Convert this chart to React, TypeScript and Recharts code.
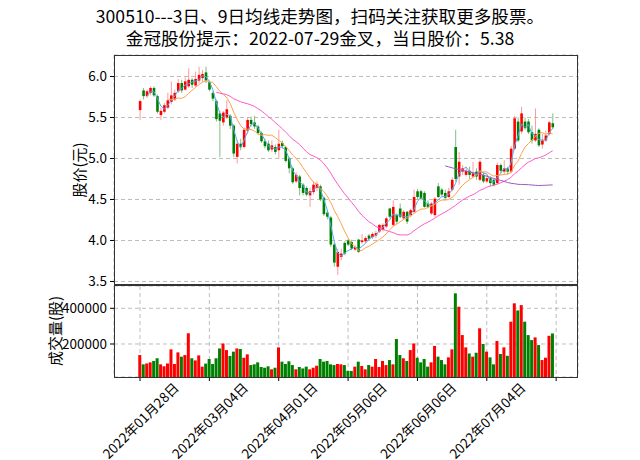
import React from 'react';
import { ComposedChart, Bar, Line, XAxis, YAxis, CartesianGrid, Cell } from 'recharts';

// ---------------- data ----------------
const tickIndex = [0, 20, 40, 60, 80, 100, 120];
const tickLabels = ['2022年01月28日', '2022年03月04日', '2022年04月01日', '2022年05月06日', '2022年06月06日', '2022年07月04日', ''];
const priceTicks = [3.5, 4.0, 4.5, 5.0, 5.5, 6.0];
const volumeTicks = [200000, 400000];

const opens = [
  5.59, 5.83, 5.76, 5.80, 5.86, 5.76, 5.53, 5.57, 5.62, 5.69,
  5.72, 5.82, 5.92, 5.84, 5.88, 5.96, 5.89, 5.95, 5.98, 6.05,
  5.93, 5.80, 5.70, 5.55, 5.44, 5.50, 5.52, 5.40, 5.02, 5.18,
  5.14, 5.34, 5.47, 5.44, 5.39, 5.31, 5.21, 5.18, 5.11, 5.14,
  5.10, 5.19, 5.14, 5.00, 4.88, 4.72, 4.78, 4.68, 4.64, 4.55,
  4.59, 4.64, 4.66, 4.52, 4.34, 4.28, 3.95, 3.68, 3.80, 3.97,
  4.00, 3.98, 3.89, 4.01, 3.98, 3.99, 4.06, 4.04, 4.06, 4.11,
  4.13, 4.17, 4.39, 4.19, 4.31, 4.39, 4.27, 4.35, 4.31, 4.35,
  4.60, 4.60, 4.58, 4.45, 4.33, 4.31, 4.66, 4.62, 4.58, 4.53,
  4.62, 5.14, 4.78, 4.84, 4.80, 4.85, 4.78, 4.84, 4.74, 4.80,
  4.72, 4.76, 4.74, 4.70, 4.92, 4.84, 4.88, 4.84, 5.12, 5.45,
  5.33, 5.45, 5.45, 5.32, 5.22, 5.35, 5.17, 5.22, 5.30, 5.43,
];
const highs = [
  5.72, 5.86, 5.84, 5.88, 5.88, 5.78, 5.62, 5.68, 5.80, 5.94,
  5.84, 5.97, 5.96, 5.99, 6.10, 5.98, 6.06, 6.12, 6.08, 6.12,
  5.95, 5.82, 5.72, 5.58, 5.58, 5.71, 5.54, 5.42, 5.22, 5.24,
  5.38, 5.50, 5.51, 5.52, 5.41, 5.33, 5.24, 5.22, 5.22, 5.17,
  5.35, 5.22, 5.15, 5.02, 4.90, 4.83, 4.80, 4.70, 4.66, 4.64,
  4.72, 4.72, 4.68, 4.54, 4.37, 4.30, 3.98, 3.90, 3.90, 3.99,
  4.02, 4.01, 3.94, 4.02, 4.08, 4.05, 4.08, 4.10, 4.12, 4.20,
  4.21, 4.29, 4.40, 4.49, 4.33, 4.45, 4.37, 4.36, 4.39, 4.62,
  4.63, 4.62, 4.60, 4.49, 4.47, 4.53, 4.70, 4.64, 4.62, 4.64,
  4.77, 5.35, 5.08, 4.92, 4.88, 4.90, 4.96, 4.88, 4.99, 4.84,
  4.80, 4.78, 4.76, 4.95, 4.94, 4.98, 4.90, 5.15, 5.52, 5.50,
  5.63, 5.50, 5.48, 5.40, 5.61, 5.37, 5.30, 5.34, 5.46, 5.55,
];
const lows = [
  5.47, 5.72, 5.74, 5.77, 5.75, 5.55, 5.47, 5.55, 5.60, 5.66,
  5.70, 5.80, 5.80, 5.83, 5.86, 5.86, 5.87, 5.92, 5.93, 5.92,
  5.82, 5.70, 5.45, 5.02, 5.40, 5.48, 5.36, 5.02, 4.94, 5.10,
  5.12, 5.30, 5.39, 5.36, 5.29, 5.19, 5.12, 5.08, 5.08, 5.05,
  5.00, 5.12, 4.95, 4.82, 4.69, 4.70, 4.55, 4.55, 4.54, 4.41,
  4.56, 4.60, 4.48, 4.30, 4.26, 3.92, 3.68, 3.58, 3.76, 3.82,
  3.93, 3.88, 3.87, 3.85, 3.96, 3.97, 4.00, 4.02, 4.03, 4.09,
  4.11, 4.15, 4.27, 4.17, 4.20, 4.27, 4.25, 4.20, 4.29, 4.33,
  4.50, 4.49, 4.40, 4.39, 4.31, 4.29, 4.52, 4.54, 4.50, 4.52,
  4.60, 4.72, 4.68, 4.80, 4.78, 4.75, 4.76, 4.74, 4.72, 4.70,
  4.70, 4.66, 4.66, 4.68, 4.82, 4.80, 4.80, 4.82, 5.10, 5.20,
  5.30, 5.35, 5.30, 5.18, 5.20, 5.14, 5.12, 5.20, 5.28, 5.36,
];
const closes = [
  5.70, 5.76, 5.82, 5.86, 5.77, 5.57, 5.58, 5.65, 5.71, 5.77,
  5.80, 5.92, 5.83, 5.94, 5.96, 5.90, 5.97, 6.02, 6.03, 5.95,
  5.84, 5.73, 5.48, 5.46, 5.56, 5.60, 5.40, 5.06, 5.18, 5.14,
  5.35, 5.47, 5.42, 5.39, 5.31, 5.21, 5.15, 5.10, 5.16, 5.08,
  5.18, 5.15, 4.97, 4.88, 4.71, 4.80, 4.64, 4.58, 4.56, 4.60,
  4.68, 4.69, 4.50, 4.32, 4.29, 3.95, 3.73, 3.86, 3.84, 3.84,
  3.95, 3.90, 3.92, 3.86, 4.00, 4.03, 4.02, 4.08, 4.09, 4.19,
  4.19, 4.27, 4.29, 4.41, 4.23, 4.29, 4.35, 4.23, 4.37, 4.53,
  4.53, 4.51, 4.41, 4.41, 4.45, 4.51, 4.53, 4.56, 4.52, 4.60,
  4.74, 4.75, 4.96, 4.88, 4.85, 4.80, 4.82, 4.78, 4.96, 4.72,
  4.76, 4.70, 4.68, 4.92, 4.85, 4.88, 4.84, 5.12, 5.49, 5.22,
  5.55, 5.37, 5.32, 5.22, 5.30, 5.16, 5.22, 5.28, 5.44, 5.38,
];
const volumes = [
  138000, 86000, 91000, 97000, 105000, 120000, 86000, 75000, 91000, 170000,
  88000, 153000, 129000, 138000, 260000, 120000, 108000, 136000, 73000, 90000,
  116000, 88000, 120000, 175000, 203000, 166000, 133000, 157000, 175000, 172000,
  123000, 142000, 82000, 86000, 97000, 71000, 67000, 75000, 58000, 67000,
  181000, 101000, 88000, 103000, 82000, 58000, 71000, 63000, 73000, 58000,
  67000, 78000, 116000, 101000, 105000, 86000, 82000, 88000, 86000, 82000,
  49000, 49000, 73000, 101000, 77000, 58000, 82000, 73000, 116000, 71000,
  105000, 82000, 110000, 86000, 228000, 138000, 120000, 105000, 166000, 203000,
  123000, 97000, 116000, 73000, 97000, 189000, 129000, 110000, 86000, 125000,
  170000, 484000, 409000, 250000, 181000, 147000, 129000, 151000, 288000, 200000,
  157000, 125000, 86000, 217000, 144000, 181000, 134000, 325000, 428000, 388000,
  418000, 325000, 250000, 222000, 237000, 194000, 110000, 123000, 246000, 259000,
];
const maPeriods = [3, 9, 23, 89];

const TITLE1 = '300510---3日、9日均线走势图，扫码关注获取更多股票。';
const TITLE2 = '金冠股份提示：2022-07-29金叉，当日股价：5.38';
const PRICE_LABEL = '股价(元)';
const VOLUME_LABEL = '成交量(股)';

// ---------------- derived table ----------------
function movingAverage(values: number[], n: number): (number | null)[] {
  return values.map((_, i) => {
    if (i < n - 1) return null;
    let s = 0;
    for (let k = i - n + 1; k <= i; k++) s += values[k];
    return s / n;
  });
}
const maSeries = maPeriods.map((p) => movingAverage(closes, p));
const rows = closes.map((c, i) => ({
  i,
  open: opens[i],
  high: highs[i],
  low: lows[i],
  close: c,
  volume: volumes[i],
  range: [lows[i], highs[i]],
  ma0: maSeries[0][i],
  ma1: maSeries[1][i],
  ma2: maSeries[2][i],
  ma3: maSeries[3][i],
}));

// ---------------- styling ----------------
const FONT = '"Noto Sans CJK SC", "Noto Sans", sans-serif';
const UP = '#ff0000';
const DOWN = '#008000';
const UP_WICK = '#ff9a9a';
const DOWN_WICK = '#7fbf7f';
const MA_COLORS = ['#55aaee', '#ffa04a', '#ff5ac8', '#9b5bc0'];
const GRID = '#bdbdbd';
const DASH = '4 3';
const X_DOMAIN: [number, number] = [-7.5, 126.3];
const PLOT_L = 114;
const PLOT_R = 578;
const TOP1 = 55;
const BOT1 = 285;
const BOT2 = 377;
const UPPER_H = 300;

const Candle = (props: any) => {
  const { x, width, payload } = props;
  let { y, height } = props;
  if (!payload || y == null || height == null) return null;
  if (height < 0) {
    y = y + height;
    height = -height;
  }
  const { open, close, high, low } = payload;
  const span = high - low;
  const py = (v: number) => (span > 0 ? y + ((high - v) / span) * height : y);
  const up = close >= open;
  const cx = x + width / 2;
  const top = py(Math.max(open, close));
  const bot = py(Math.min(open, close));
  const bw = 2.6;
  return (
    <g>
      <line x1={cx} x2={cx} y1={y} y2={y + height} stroke={up ? UP_WICK : DOWN_WICK} strokeWidth={1} />
      <rect x={cx - bw / 2} y={top} width={bw} height={Math.max(bot - top, 1)} fill={up ? UP : DOWN} />
    </g>
  );
};

const XTick = (props: any) => {
  const { x, y, payload } = props;
  const idx = tickIndex.indexOf(payload.value);
  const label = idx >= 0 ? tickLabels[idx] : '';
  if (!label) return null;
  const cy = y + 36;
  return (
    <text
      x={x}
      y={cy}
      textAnchor="middle"
      dominantBaseline="central"
      transform={`rotate(-45, ${x}, ${cy})`}
      fontSize={13.5}
      fontFamily={FONT}
      fill="#000"
    >
      {label}
    </text>
  );
};

const tickStyle = { fontSize: 13.5, fill: '#000', fontFamily: FONT };

export default function App() {
  return (
    <div style={{ position: 'absolute', left: 0, top: 0, width: 640, height: 460, background: '#fff', fontFamily: FONT, overflow: 'hidden' }}>
      <div style={{ position: 'absolute', left: 0, top: 5, width: 640, textAlign: 'center', fontSize: 17.6, lineHeight: '22px', color: '#000' }}>
        <div>{TITLE1}</div>
        <div>{TITLE2}</div>
      </div>

      {/* price panel */}
      <div style={{ position: 'absolute', left: 0, top: 0 }}>
        <ComposedChart width={640} height={UPPER_H} data={rows} margin={{ top: TOP1, right: 640 - PLOT_R, bottom: UPPER_H - BOT1 - 1, left: 0 }}>
          <CartesianGrid stroke={GRID} strokeDasharray={DASH} />
          <XAxis
            type="number"
            dataKey="i"
            domain={X_DOMAIN}
            allowDataOverflow
            ticks={tickIndex}
            interval={0}
            height={1}
            tick={false}
            axisLine={false}
            tickLine={false}
          />
          <YAxis
            type="number"
            width={PLOT_L}
            domain={[3.457, 6.262]}
            allowDataOverflow
            ticks={priceTicks}
            interval={0}
            tickFormatter={(v: number) => v.toFixed(1)}
            tick={tickStyle}
            tickSize={4}
            tickMargin={3}
            axisLine={false}
            tickLine={{ stroke: '#000' }}
          />
          <Bar dataKey="range" shape={Candle} isAnimationActive={false} />
          {maSeries.map((_, k) => (
            <Line
              key={'ma' + k}
              type="linear"
              dataKey={'ma' + k}
              stroke={MA_COLORS[k]}
              strokeWidth={1}
              dot={false}
              activeDot={false}
              connectNulls={false}
              isAnimationActive={false}
            />
          ))}
        </ComposedChart>
      </div>

      {/* volume panel */}
      <div style={{ position: 'absolute', left: 0, top: 0 }}>
        <ComposedChart width={640} height={460} data={rows} margin={{ top: BOT1 + 1, right: 640 - PLOT_R, bottom: 0, left: 0 }} barCategoryGap={0} barGap={0}>
          <CartesianGrid stroke={GRID} strokeDasharray={DASH} />
          <XAxis
            type="number"
            dataKey="i"
            domain={X_DOMAIN}
            allowDataOverflow
            ticks={tickIndex}
            tick={<XTick />}
            height={460 - BOT2}
            tickSize={4}
            tickMargin={3}
            axisLine={false}
            tickLine={{ stroke: '#000' }}
            interval={0}
          />
          <YAxis
            type="number"
            width={PLOT_L}
            domain={[15000, 525000]}
            allowDataOverflow
            ticks={volumeTicks}
            interval={0}
            tick={tickStyle}
            tickSize={4}
            tickMargin={3}
            axisLine={false}
            tickLine={{ stroke: '#000' }}
          />
          <Bar dataKey="volume" isAnimationActive={false}>
            {rows.map((r) => (
              <Cell key={r.i} fill={r.close >= r.open ? UP : DOWN} />
            ))}
          </Bar>
        </ComposedChart>
      </div>

      {/* panel frames */}
      <div style={{ position: 'absolute', left: PLOT_L, top: TOP1, width: PLOT_R - PLOT_L, height: BOT1 - TOP1, border: '1px solid #333', boxSizing: 'border-box', pointerEvents: 'none' }} />
      <div style={{ position: 'absolute', left: PLOT_L, top: BOT1, width: PLOT_R - PLOT_L, height: BOT2 - BOT1 + 1, border: '1px solid #333', boxSizing: 'border-box', pointerEvents: 'none' }} />

      {/* axis titles */}
      <div style={{ position: 'absolute', left: 79 - 60, top: 170 - 10, width: 120, height: 20, lineHeight: '20px', textAlign: 'center', fontSize: 15, transform: 'rotate(-90deg)', color: '#000' }}>
        {PRICE_LABEL}
      </div>
      <div style={{ position: 'absolute', left: 55 - 60, top: 331 - 10, width: 120, height: 20, lineHeight: '20px', textAlign: 'center', fontSize: 15, transform: 'rotate(-90deg)', color: '#000' }}>
        {VOLUME_LABEL}
      </div>
    </div>
  );
}
